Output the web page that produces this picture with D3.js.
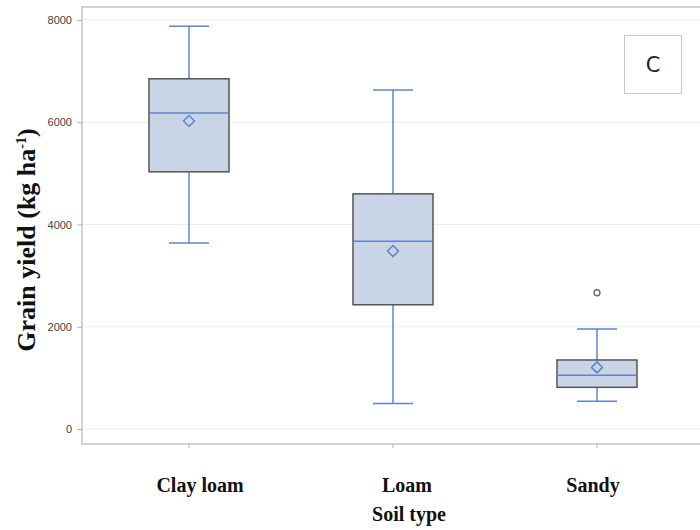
<!DOCTYPE html>
<html>
<head>
<meta charset="utf-8">
<script src="https://cdn.jsdelivr.net/npm/d3@7"></script>
<style>
  body { margin: 0; background: #fff; }
  svg { display: block; }
</style>
</head>
<body>
<svg id="chart" width="700" height="530"></svg>
<script>
// summary stats (kg/ha)
var soils = ["Clay loam", "Loam", "Sandy"];
var whiskerLow = [3640, 500, 545];
var q1 = [5030, 2430, 815];
var median = [6180, 3670, 1050];
var q3 = [6850, 4600, 1350];
var whiskerHigh = [7880, 6630, 1955];
var means = [6025, 3480, 1205];
var outliers = [[], [], [2665]];
var yTicks = [0, 2000, 4000, 6000, 8000];

var BLUE = "#6283cc";
var SERIF = "Liberation Serif, 'Times New Roman', serif";
var frame = { left: 82, top: 7, right: 700, bottom: 444 };
// the category labels in the original sit a little off their ticks
var labelNudge = { "Clay loam": 11, "Loam": 14, "Sandy": -4 };

var svg = d3.select("#chart");

var x = d3.scaleBand().domain(soils).range([87, 699]);
var y = d3.scaleLinear().domain([0, 8000]).range([429, 20]);

var boxes = soils.map(function(s, i) {
  return { soil: s, lo: whiskerLow[i], q1: q1[i], med: median[i], q3: q3[i], hi: whiskerHigh[i], mean: means[i], out: outliers[i] };
});

// gridlines
svg.append("g").selectAll("line")
  .data(yTicks).join("line")
  .attr("x1", frame.left).attr("x2", frame.right)
  .attr("y1", d => y(d)).attr("y2", d => y(d))
  .style("stroke", "#ececec").style("stroke-width", 1);

// frame
svg.append("path")
  .attr("d", "M" + frame.right + "," + frame.top + "H" + frame.left + "V" + frame.bottom + "H" + frame.right)
  .style("fill", "none").style("stroke", "#c4c4c4").style("stroke-width", 1.5);

// y axis
var yAxis = svg.append("g")
  .attr("transform", "translate(" + frame.left + ",0)")
  .call(d3.axisLeft(y).tickValues(yTicks).tickSize(5).tickPadding(5).tickFormat(d3.format("d")));
yAxis.select(".domain").remove();
yAxis.selectAll(".tick line").style("stroke", "#b0b0b0");
yAxis.selectAll(".tick text")
  .style("font-family", "Liberation Sans, Arial, sans-serif")
  .style("font-size", "11px").style("fill", "#444");

// x axis
var xAxis = svg.append("g")
  .attr("transform", "translate(0," + frame.bottom + ")")
  .call(d3.axisBottom(x).tickSize(4));
xAxis.select(".domain").remove();
xAxis.selectAll(".tick line").style("stroke", "#b0b0b0");
xAxis.selectAll(".tick text")
  .attr("y", 48).attr("dy", null)
  .attr("dx", d => labelNudge[d])
  .style("font-family", SERIF)
  .style("font-weight", "bold").style("font-size", "20px").style("fill", "#111");

var cx = d => x(d.soil) + x.bandwidth() / 2;
var boxW = 80, capW = 40;

var g = svg.append("g").selectAll("g").data(boxes).join("g");

// whisker stems
g.append("line")
  .attr("x1", cx).attr("x2", cx)
  .attr("y1", d => y(d.lo)).attr("y2", d => y(d.q1))
  .style("stroke", BLUE).style("stroke-width", 1.5);
g.append("line")
  .attr("x1", cx).attr("x2", cx)
  .attr("y1", d => y(d.q3)).attr("y2", d => y(d.hi))
  .style("stroke", BLUE).style("stroke-width", 1.5);
// caps
g.selectAll(".cap").data(d => [[d, d.lo], [d, d.hi]]).join("line")
  .attr("class", "cap")
  .attr("x1", d => cx(d[0]) - capW / 2).attr("x2", d => cx(d[0]) + capW / 2)
  .attr("y1", d => y(d[1])).attr("y2", d => y(d[1]))
  .style("stroke", BLUE).style("stroke-width", 1.5);

// box
g.append("rect")
  .attr("x", d => cx(d) - boxW / 2).attr("width", boxW)
  .attr("y", d => y(d.q3)).attr("height", d => y(d.q1) - y(d.q3))
  .style("fill", "#c9d5e6").style("stroke", "#555").style("stroke-width", 1.5);

// median
g.append("line")
  .attr("x1", d => cx(d) - boxW / 2 + 1).attr("x2", d => cx(d) + boxW / 2 - 1)
  .attr("y1", d => y(d.med)).attr("y2", d => y(d.med))
  .style("stroke", BLUE).style("stroke-width", 1.5);

// mean diamond
g.append("path")
  .attr("d", d => {
    var px = cx(d), py = y(d.mean), r = 5.5;
    return "M" + px + "," + (py - r) + "L" + (px + r) + "," + py + "L" + px + "," + (py + r) + "L" + (px - r) + "," + py + "Z";
  })
  .style("fill", "none").style("stroke", BLUE).style("stroke-width", 1.5);

// outliers
g.selectAll(".out").data(d => d.out.map(v => [d, v])).join("circle")
  .attr("class", "out")
  .attr("cx", d => cx(d[0])).attr("cy", d => y(d[1])).attr("r", 3)
  .style("fill", "none").style("stroke", "#666").style("stroke-width", 1.3);

// axis titles
svg.append("text")
  .attr("transform", "translate(35,240) rotate(-90)")
  .attr("text-anchor", "middle")
  .style("font-family", SERIF)
  .style("font-weight", "bold").style("font-size", "26px").style("fill", "#111")
  .html('Grain yield (kg ha<tspan dy="-9" font-size="14px">-1</tspan><tspan dy="9">)</tspan>');

svg.append("text")
  .attr("x", 409).attr("y", 521)
  .attr("text-anchor", "middle")
  .style("font-family", SERIF)
  .style("font-weight", "bold").style("font-size", "20px").style("fill", "#111")
  .text("Soil type");

// panel letter
svg.append("rect")
  .attr("x", 624.5).attr("y", 35.5).attr("width", 57).attr("height", 58)
  .style("fill", "#fff").style("stroke", "#c8c8c8").style("stroke-width", 1);
svg.append("text")
  .attr("x", 653).attr("y", 72).attr("text-anchor", "middle")
  .style("font-family", "DejaVu Sans, sans-serif")
  .style("font-size", "21px").style("fill", "#222")
  .text("C");
</script>
</body>
</html>
